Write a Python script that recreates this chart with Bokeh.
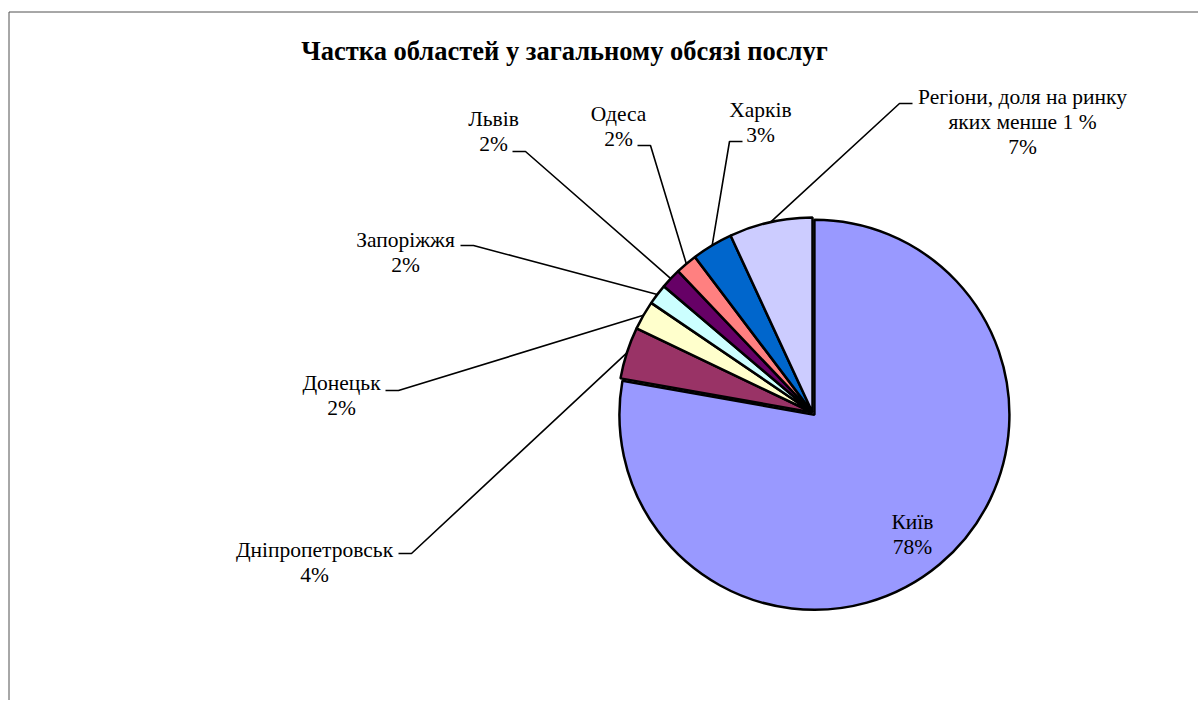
import math
from bokeh.plotting import figure
from bokeh.models import Range1d, ColumnDataSource
from bokeh.embed import file_html
from bokeh.resources import INLINE
from bokeh.core.properties import value

# ---------------- data ----------------
title = "Частка областей у загальному обсязі послуг"
regions = ["Київ", "Дніпропетровськ", "Донецьк", "Запоріжжя", "Львів",
           "Одеса", "Харків", "Регіони, доля на ринку яких менше 1 %"]
label_lines = [["Київ"], ["Дніпропетровськ"], ["Донецьк"], ["Запоріжжя"],
               ["Львів"], ["Одеса"], ["Харків"],
               ["Регіони, доля на ринку", "яких менше 1 %"]]
shares = [77.8, 4.3, 2.4, 1.7, 1.7, 1.8, 3.4, 6.9]
percent_labels = ["78%", "4%", "2%", "2%", "2%", "2%", "3%", "7%"]
colors = ["#9999FF", "#993366", "#FFFFCC", "#CCFFFF", "#660066",
          "#FF8080", "#0066CC", "#CCCCFF"]

# ---------------- layout (page pixels) ----------------
W, H = 1198, 700


def Y(py):
    return H - py


CX, CY, R = 812, 412, 195
explode = [3, 0, 0, 0, 0, 0, 0, 0]
FONT = "'Liberation Serif', 'Times New Roman', serif"
LINE_H = 25
TEXT_DY = -1
# label centre x, first line visual centre y, leader horizontal (text side x, pie side x, y)
label_layout = [
    (912, 522, None),
    (314, 550, (398, 411, 553)),
    (341, 383, (385, 398, 390)),
    (405, 240, (460, 473, 245)),
    (493, 119, (512, 525, 151)),
    (618, 114, (637, 650, 145)),
    (760, 110, (742, 729, 141)),
    (1022, 97, (912, 899, 103)),
]

p = figure(width=W, height=H, output_backend="svg", toolbar_location=None,
           x_range=Range1d(0, W), y_range=Range1d(0, H),
           x_axis_type=None, y_axis_type=None, min_border=0)
p.grid.visible = False
p.outline_line_color = None
p.background_fill_color = "white"
p.border_fill_color = "white"

# chart frame
p.line(x=[8.5, W], y=[Y(11.5), Y(11.5)], line_color="#505050", line_width=1)
p.line(x=[8.5, 8.5], y=[Y(11.5), 0], line_color="#505050", line_width=1)

# wedges
total = sum(shares)
starts, ends, xs, ys, mids = [], [], [], [], []
cum = 0.0
for s, ex in zip(shares, explode):
    a0 = math.pi / 2 - 2 * math.pi * cum / total
    a1 = math.pi / 2 - 2 * math.pi * (cum + s) / total
    am = (a0 + a1) / 2
    starts.append(a0)
    ends.append(a1)
    mids.append(am)
    xs.append(CX + ex * math.cos(am))
    ys.append(Y(CY) + ex * math.sin(am))
    cum += s

src = ColumnDataSource(dict(x=xs, y=ys, start=starts, end=ends, color=colors,
                            region=regions, share=shares))
p.wedge(x="x", y="y", radius=R, start_angle="start", end_angle="end",
        direction="clock", fill_color="color", line_color="black",
        line_width=2.5, source=src)

# leader lines
lx, ly = [], []
for am, lay in zip(mids, label_layout):
    seg = lay[2]
    if seg is None:
        continue
    far, near, sy = seg
    ex_ = CX + R * math.cos(am)
    ey_ = Y(CY) + R * math.sin(am)
    lx.append([far, near, ex_])
    ly.append([Y(sy), Y(sy), ey_])
p.multi_line(xs=lx, ys=ly, line_color="black", line_width=1.6)

# labels
tx, ty, tt = [], [], []
for lines, pct, lay in zip(label_lines, percent_labels, label_layout):
    cx, cy, _ = lay
    for i, t in enumerate(lines + [pct]):
        tx.append(cx)
        ty.append(Y(cy + i * LINE_H + TEXT_DY))
        tt.append(t)
p.text(x=tx, y=ty, text=tt, text_font=value(FONT), text_font_size="21.5px",
       text_align="center", text_baseline="alphabetic", text_color="black")

# title
p.text(x=[564], y=[Y(50)], text=[title], text_font=value(FONT),
       text_font_size="26.5px", text_font_style="bold", text_align="center",
       text_baseline="alphabetic", text_color="black")

open("out.html", "w").write(file_html(p, INLINE))
